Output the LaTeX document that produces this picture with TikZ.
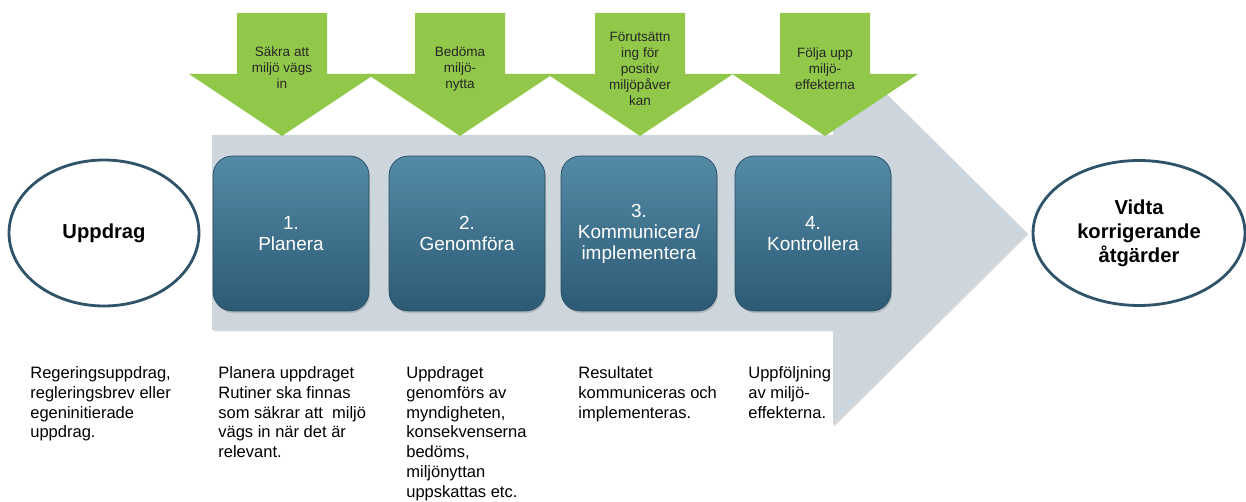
\documentclass[tikz,border=0pt]{standalone}
\usepackage{fontspec}
\setmainfont{Liberation Sans}
\usetikzlibrary{shapes.geometric,shadows}

\definecolor{groen}{RGB}{146,200,74}
\definecolor{pilgraa}{RGB}{206,214,221}
\definecolor{boxtopp}{RGB}{84,138,166}
\definecolor{boxbotten}{RGB}{44,90,116}
\definecolor{ellipskant}{RGB}{47,83,104}

\tikzset{
  steg/.style={rectangle, rounded corners=11pt, minimum width=3.12cm, minimum height=3.1cm,
    top color=boxtopp, bottom color=boxbotten, draw=boxbotten!85!black, line width=0.4pt,
    text=white, align=center, font=\fontsize{10.8}{12}\selectfont,
    drop shadow={opacity=0.35, shadow xshift=0.6pt, shadow yshift=-1.2pt}},
  slut/.style={ellipse, draw=ellipskant, line width=1.6pt, fill=white, inner sep=0pt,
    align=center, font=\bfseries\fontsize{11.5}{13.6}\selectfont},
  piltext/.style={align=center, text=black!85, inner sep=0pt, font=\fontsize{7.7}{9.1}\selectfont},
  brodtext/.style={anchor=north west, align=left, inner sep=0pt, font=\fontsize{9.4}{11.3}\selectfont}
}

\begin{document}
\begin{tikzpicture}[x=0.02cm,y=-0.02cm]
    \useasboundingbox (0,0) rectangle (1246,502);

    % stora grå pilen
    \fill[pilgraa, drop shadow={opacity=0.3, shadow xshift=0.8pt, shadow yshift=-0.8pt}]
        (212,135) -- (833,135) -- (833,41) -- (1027,233) -- (833,425) -- (833,330) -- (212,330) -- cycle;

    % gröna pilar
    \fill[groen] (237,13) -- (327,13) -- (327,74) -- (375,74) -- (282,136) -- (189,74) -- (237,74) -- cycle;
    \fill[groen] (415,13) -- (505,13) -- (505,74) -- (553,74) -- (460,136) -- (367,74) -- (415,74) -- cycle;
    \fill[groen] (595,13) -- (685,13) -- (685,74) -- (733,74) -- (640,136) -- (547,74) -- (595,74) -- cycle;
    \fill[groen] (780,13) -- (870,13) -- (870,74) -- (918,74) -- (825,136) -- (732,74) -- (780,74) -- cycle;

    \node[piltext] (saekra) at (282,68) {Säkra att\\miljö vägs\\in};
    \node[piltext] (bedoma) at (460,69) {Bedöma\\miljö-\\nytta};
    \node[piltext] (forutsattning) at (640,69) {Förutsättn\\ing för\\positiv\\miljöpåver\\kan};
    \node[piltext] (folja) at (825,69) {Följa upp\\miljö-\\effekterna};

    % stegen
    \node[steg] (planera) at (291,233.5) {1.\\Planera};
    \node[steg] (genomfora) at (467,233.5) {2.\\Genomföra};
    \node[steg] (kommunicera) at (639,233.5) {3.\\Kommunicera/\\implementera};
    \node[steg] (kontrollera) at (813,233.5) {4.\\Kontrollera};

    % ellipser
    \node[slut, minimum width=3.8cm, minimum height=2.92cm] (uppdrag) at (104,233) {Uppdrag};
    \node[slut, minimum width=4.24cm, minimum height=2.9cm] (atgarder) at (1139,233) {Vidta\\korrigerande\\åtgärder};

    % texter under
    \node[brodtext] (txtuppdrag) at (30,366) {Regeringsuppdrag,\\regleringsbrev eller\\egeninitierade\\uppdrag.};
    \node[brodtext] (txtplanera) at (218,366) {Planera uppdraget\\Rutiner ska finnas\\som säkrar att\ \ miljö\\vägs in när det är\\relevant.};
    \node[brodtext] (txtgenomfora) at (406,366) {Uppdraget\\genomförs av\\myndigheten,\\konsekvenserna\\bedöms,\\miljönyttan\\uppskattas etc.};
    \node[brodtext] (txtkommunicera) at (578,366) {Resultatet\\kommuniceras och\\implementeras.};
    \node[brodtext] (txtkontrollera) at (748,366) {Uppföljning\\av miljö-\\effekterna.};
\end{tikzpicture}
\end{document}
